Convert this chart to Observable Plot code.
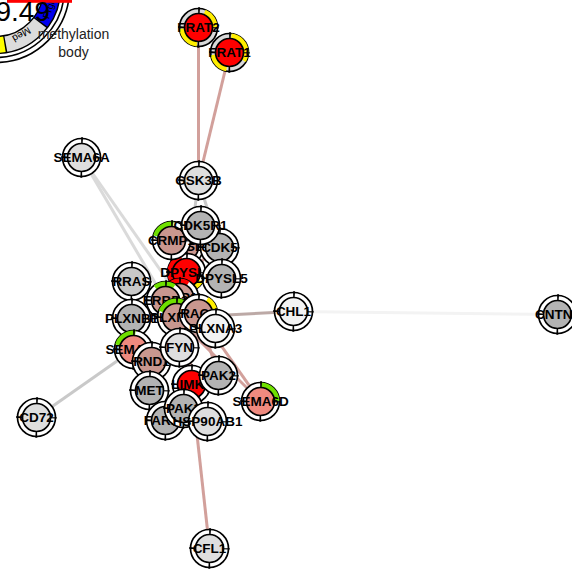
<!DOCTYPE html>
<html><head><meta charset="utf-8">
<script src="https://cdn.jsdelivr.net/npm/d3@7"></script>
<script src="https://cdn.jsdelivr.net/npm/@observablehq/plot@0.6"></script>
<style>body{margin:0;background:#fff;overflow:hidden}</style>
</head><body><div id="chart"></div>
<script>
// ---- data (layout coordinates of the network; listed in drawing order) ----
const nodeNames = ["DPYSL3","DPYSL2","NRP1","ERBB2","PLXNA1","RAC1","PLXNA3","CRMP1","CDK5","CDK5R1","DPYSL5","RRAS","PLXNB1","SEMA4D","RND1","FYN","LIMK1","MET","PAK2","FARP2","PAK3","HSP90AB1","SEMA6D","GSK3B","SEMA6A","FRAT2","FRAT1","CHL1","CNTN1","CD72","CFL1"];
const nodeX = [184,186,179,165,176,198,215,171,219,200,221,131,131,133,151,179,191,149,218,165,183,207,260,198,81,198,229,293,557,36,209];
const nodeY = [246,272,297,300,317,313,328,240,247,225,278,281,318,349,361,347,384,390,375,420,408,421,401,180,157,27,52,311,314,417,548];
const nodeKind = ["rose","red","rose","rose","rose","rose","white","rose","gray","gray","gray","silver","gray","salmon","rose","light","red","gray","gray","gray","gray","light","salmon","light","light","red","red","white","gray","light","light"];
const ringBase = {FRAT1:"#d9d9d9", FRAT2:"#d9d9d9"};
// ring segments: node, colour kind, start angle, end angle (deg clockwise from east)
const segNode  = ["FRAT2","FRAT2","FRAT1","FRAT1","CRMP1","DPYSL2","DPYSL2","NRP1","NRP1","PLXNA1","RAC1","SEMA4D","SEMA6D","DPYSL3","ERBB2"];
const segKind  = ["yellow","yellow","yellow","yellow","green","red","yellow","red","yellow","green","yellow","green","green","red","green"];
const segStart = [290,95,275,100,195,120,30,150,20,200,300,195,270,110,230];
const segEnd   = [360,175,390,170,275,250,110,300,80,290,350,275,355,200,300];
// edges
const edgeFrom = ["FRAT2","FRAT1","SEMA6A","SEMA6A","GSK3B","CHL1","CHL1","CD72","CFL1","SEMA6D","SEMA6D","GSK3B","CRMP1","DPYSL2","NRP1","PLXNB1","SEMA4D","RND1","MET","PAK2","PAK3","LIMK1","FYN","HSP90AB1"];
const edgeTo   = ["GSK3B","GSK3B","NRP1","ERBB2","DPYSL2","PLXNA1","CNTN1","SEMA4D","LIMK1","PLXNA1","RAC1","CDK5","CDK5","CDK5","PLXNA1","SEMA4D","MET","PLXNB1","PLXNB1","RAC1","RAC1","PAK2","PLXNA1","ERBB2"];
const edgeKind = ["rose","rose","pale","pale","grey","taupe","faint","grey","rose","rose","rose","grey","rose","rose","rose","grey","rose","rose","grey","rose","rose","rose","grey","rose"];

// ---- styles ----
const fillColor = {red:"#ff0000", salmon:"#ef8a7f", rose:"#c9978f", gray:"#b3b3b3", silver:"#c8c8c8", light:"#dedede", white:"#f3f3f3"};
const segColor = {yellow:"#ffee00", green:"#6fe000", red:"#ff0000"};
const edgeColor = {rose:"#d2a09b", pale:"#dadada", grey:"#c9c9c9", taupe:"#bca9a6", faint:"#f3f3f3"};

const nodes = nodeNames.map((n,i)=>({name:n, x:nodeX[i], y:nodeY[i], fill:fillColor[nodeKind[i]], ring: ringBase[n] || "#ffffff"}));
const byName = Object.fromEntries(nodes.map(d=>[d.name,d]));
const edges = edgeFrom.map((f,i)=>({x1:byName[f].x, y1:byName[f].y, x2:byName[edgeTo[i]].x, y2:byName[edgeTo[i]].y, stroke:edgeColor[edgeKind[i]]}));

function arcDash(a1, a2, r){
  const C = 2*Math.PI*r;
  return `0 ${a1/360*C} ${(a2-a1)/360*C} ${2*C}`;
}

// legend (partial big node in the corner)
const legend = [{x:-5, y:-12}];
const legendSegKind = ["blue","gray","yellow"];
const legendSegStart = [-30, 37, 80];
const legendSegEnd = [37, 80, 110];
const legendSegColor = {blue:"#0000ee", gray:"#dcdcdc", yellow:"#ffff00"};
const legendWords = ["Prgn","Med"];
const legendValue = "9.49";
const legendLabel = ["methylation","body"];

const marks = [];
// legend circle
const LR = 56.5;
marks.push(Plot.dot(legend, {x:"x", y:"y", r:74, fill:"white", stroke:"black", strokeWidth:1.6}));
marks.push(Plot.dot(legend, {x:"x", y:"y", r:69, fill:"white", stroke:"black", strokeWidth:1.6}));
legendSegKind.forEach((k,i)=>{
  const a1 = Math.max(0, legendSegStart[i]);
  marks.push(Plot.dot(legend, {x:"x", y:"y", r:LR, fill:"none", stroke:legendSegColor[k], strokeWidth:17, strokeDasharray:arcDash(a1, legendSegEnd[i], LR)}));
  if (legendSegStart[i] < 0)
    marks.push(Plot.dot(legend, {x:"x", y:"y", r:LR, fill:"none", stroke:legendSegColor[k], strokeWidth:17, strokeDasharray:arcDash(360+legendSegStart[i], 360, LR)}));
});
for (const a of [37, 80]) {
  marks.push(Plot.dot(legend, {x:"x", y:"y", r:LR, fill:"none", stroke:"black", strokeWidth:17, strokeDasharray:arcDash(a-0.7, a+0.7, LR)}));
}
marks.push(Plot.dot(legend, {x:"x", y:"y", r:65, fill:"none", stroke:"black", strokeWidth:1.4}));
marks.push(Plot.dot(legend, {x:"x", y:"y", r:48, fill:"none", stroke:"black", strokeWidth:1.4}));
marks.push(Plot.text([legendWords[0]], {x:[49], y:[8], text:d=>d, rotate:-70, fontSize:10, fill:"black", fontFamily:"Liberation Sans, Arial"}));
marks.push(Plot.text([legendWords[1]], {x:[21], y:[34], text:d=>d, rotate:150, fontSize:10, fill:"black", fontFamily:"Liberation Sans, Arial"}));
marks.push(Plot.rectY([{x1:7,x2:72,y1:0,y2:2.8}], {x1:"x1", x2:"x2", y1:"y1", y2:"y2", fill:"#ff0000"}));
marks.push(Plot.text([legendValue], {x:[-5], y:[12], text:d=>d, textAnchor:"start", fontSize:28, fill:"black", fontFamily:"Liberation Sans, Arial"}));
marks.push(Plot.text(legendLabel, {x:[73,73], y:[34,52], text:d=>d, fontSize:14, fill:"#222", fontFamily:"Liberation Sans, Arial"}));

// edges
marks.push(Plot.link(edges, {x1:"x1", y1:"y1", x2:"x2", y2:"y2", stroke:"stroke", strokeWidth:3}));

// nodes
const R_OUT = 19, R_IN = 14, R_MID = 16.5;
const Cmid = 2*Math.PI*R_MID;
for (const n of nodes) {
  marks.push(Plot.dot([n], {x:"x", y:"y", r:R_OUT, fill:n.ring, stroke:"black", strokeWidth:1.7}));
  segNode.forEach((s,i)=>{
    if (s !== n.name) return;
    let a1 = segStart[i], a2 = segEnd[i];
    const parts = a2 > 360 ? [[a1,360],[0,a2-360]] : [[a1,a2]];
    for (const [p1,p2] of parts)
      marks.push(Plot.dot([n], {x:"x", y:"y", r:R_MID, fill:"none", stroke:segColor[segKind[i]], strokeWidth:5, strokeDasharray:arcDash(p1,p2,R_MID)}));
  });
  marks.push(Plot.dot([n], {x:"x", y:"y", r:R_MID, fill:"none", stroke:"black", strokeWidth:7.5, strokeDasharray:`1.7 ${Cmid/4-1.7}`, strokeDashoffset:0.85}));
  marks.push(Plot.dot([n], {x:"x", y:"y", r:R_IN, fill:n.fill, stroke:"black", strokeWidth:1.7}));
  marks.push(Plot.text([n], {x:"x", y:"y", text:"name", fontSize:13.5, fontWeight:"bold", fill:"black", fontFamily:"Liberation Sans, Arial"}));
}

const chart = Plot.plot({
  width:572, height:571, margin:0,
  x:{domain:[0,572], axis:null},
  y:{domain:[0,571], reverse:true, axis:null},
  style:{background:"white", overflow:"hidden"},
  marks
});
document.getElementById("chart").append(chart);
</script>
</body></html>
